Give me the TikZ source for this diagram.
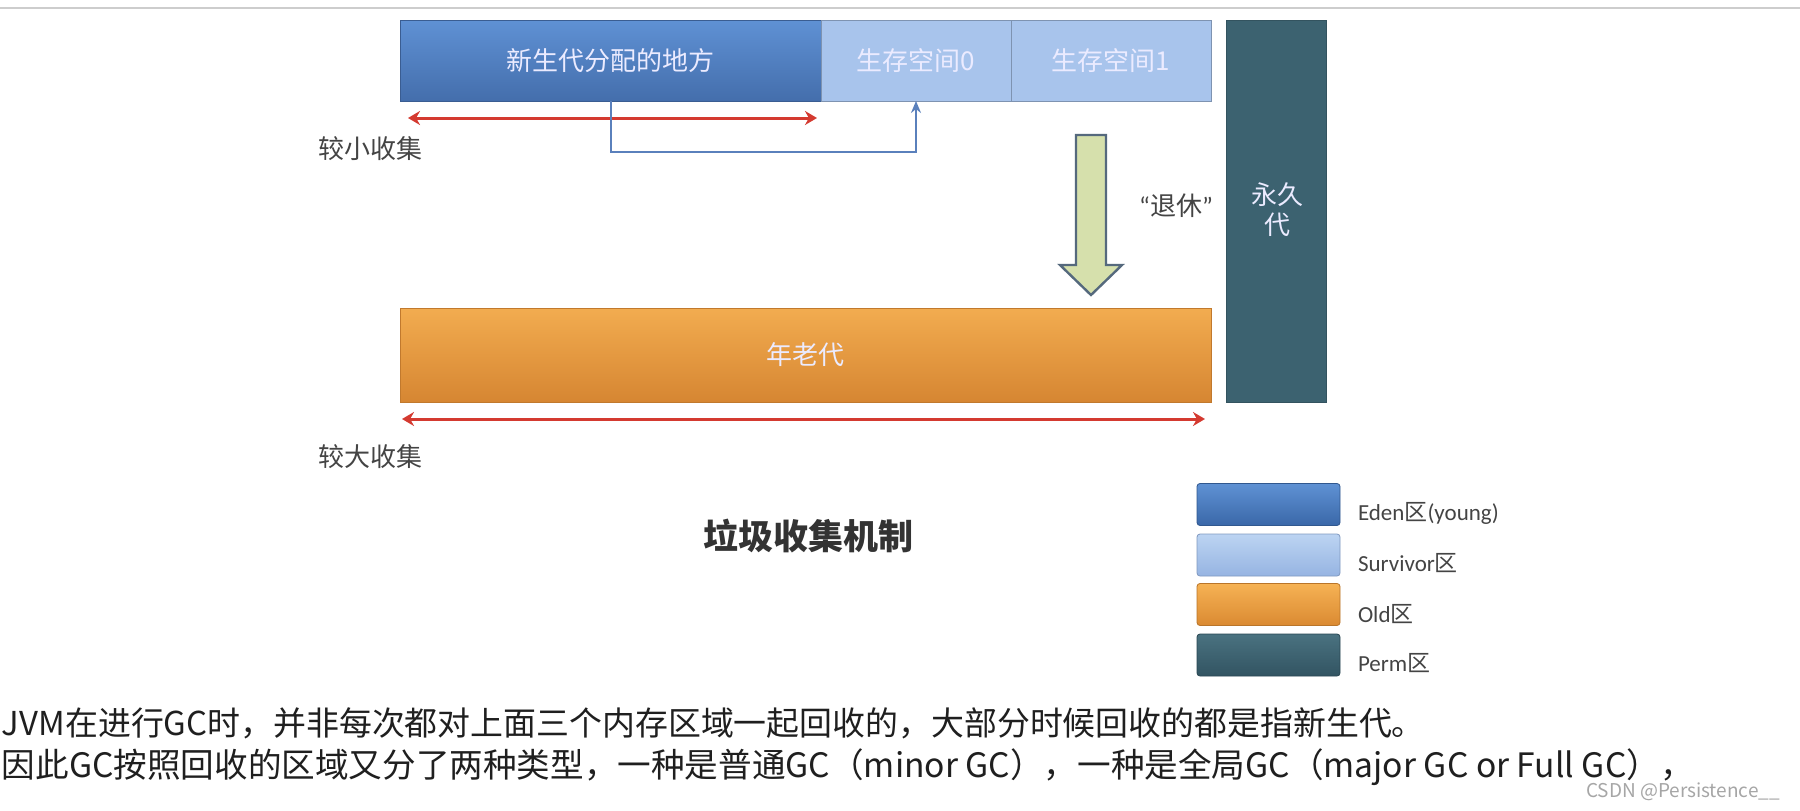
\documentclass[tikz,border=0pt]{standalone}
\usepackage{fontspec}
\setmainfont{Noto Sans CJK SC}
\newfontfamily\latinf{Carlito}
\usetikzlibrary{arrows.meta,calc}
\definecolor{edenT}{RGB}{95,145,212}
\definecolor{edenB}{RGB}{68,110,172}
\definecolor{surv}{RGB}{168,196,236}
\definecolor{oldT}{RGB}{242,172,80}
\definecolor{oldB}{RGB}{214,134,50}
\definecolor{perm}{RGB}{60,98,112}
\definecolor{arrowgreen}{RGB}{214,224,172}
\definecolor{arrowedge}{RGB}{85,105,125}
\definecolor{redline}{RGB}{212,58,48}
\definecolor{blueline}{RGB}{90,128,188}
\definecolor{labelgray}{RGB}{68,68,68}
\definecolor{framegray}{RGB}{205,205,205}
\definecolor{legEdenT}{RGB}{95,145,212}
\definecolor{legEdenB}{RGB}{58,103,168}
\definecolor{legSurvT}{RGB}{188,212,242}
\definecolor{legSurvB}{RGB}{150,180,226}
\definecolor{legOldT}{RGB}{246,178,84}
\definecolor{legOldB}{RGB}{218,138,50}
\definecolor{legPermT}{RGB}{74,114,128}
\definecolor{legPermB}{RGB}{50,84,98}
\begin{document}
\begin{tikzpicture}[x=0.5pt,y=-0.5pt,
  every node/.style={inner sep=0pt,outer sep=0pt},
  edenbox/.style={top color=edenT,bottom color=edenB,draw=edenB!85!black,line width=0.4pt},
  survbox/.style={fill=surv,draw=surv!75!black,line width=0.4pt},
  oldbox/.style={top color=oldT,bottom color=oldB,draw=oldB!90!black,line width=0.4pt},
  permbox/.style={fill=perm,draw=perm!85!black,line width=0.4pt},
  boxtext/.style={text=white!92!blue,font=\fontsize{13pt}{15pt}\selectfont},
  graytext/.style={text=labelgray,font=\fontsize{13pt}{15pt}\selectfont},
  spanarrow/.style={draw=redline,line width=1.5pt,{Stealth[length=6pt,width=7pt]}-{Stealth[length=6pt,width=7pt]}},
  flowarrow/.style={draw=blueline,line width=1pt,-{Stealth[length=6pt,width=5pt,inset=2pt]}},
  legbox/.style={minimum width=71.5pt,minimum height=21pt,rounded corners=1.5pt,line width=0.4pt},
  legtext/.style={anchor=west,text=labelgray,font=\fontsize{11.5pt}{13pt}\selectfont},
  bodytext/.style={anchor=west,text=black!88},
]
\useasboundingbox (0,0) rectangle (1800,810);
\fill[white] (0,0) rectangle (1800,810);
\draw[framegray,line width=1pt] (0,8) -- (1800,8);

% memory regions
\node[edenbox,minimum width=210.5pt,minimum height=40.5pt,boxtext] (eden) at (610.5,60.5) {新生代分配的地方};
\node[survbox,minimum width=95pt,minimum height=40.5pt,boxtext] (surv0) at (916,60.5) {生存空间0};
\node[survbox,minimum width=100pt,minimum height=40.5pt,boxtext] (surv1) at (1111,60.5) {生存空间1};
\node[permbox,minimum width=50pt,minimum height=191pt] (perm) at (1276,211) {};
\node[boxtext,align=center,font=\fontsize{13pt}{15pt}\selectfont] (permtext) at (1277,210) {永久\\代};
\node[oldbox,minimum width=405.5pt,minimum height=47pt,boxtext] (old) at (805.5,355) {年老代};

% minor collection
\coordinate (m1) at (408,118);
\coordinate (m2) at (817,118);
\draw[spanarrow] (m1) -- (m2);
\node[graytext] (minor) at (370,149) {较小收集};
\draw[flowarrow] (eden.south) -- ++(0,51) -| (surv0.south);

% retirement arrow
\draw[fill=arrowgreen,draw=arrowedge,line width=1.2pt,line join=miter]
  (1076,135) -- (1106,135) -- (1106,265) -- (1122,265) -- (1091,295) -- (1060,265) -- (1076,265) -- cycle;
\node[graytext] (retire) at (1176,206) {{\latinf “}退休{\latinf ”}};

% major collection
\coordinate (M1) at (402,419);
\coordinate (M2) at (1205,419);
\draw[spanarrow] (M1) -- (M2);
\node[graytext] (major) at (370,457) {较大收集};

% title
\node[font=\fontsize{17.5pt}{20pt}\selectfont\bfseries,text=black!80] (title) at (808,536) {垃圾收集机制};

% legend
\node[legbox,top color=legEdenT,bottom color=legEdenB,draw=legEdenB!85!black] (lgeden) at (1268.5,504.5) {};
\node[legbox,top color=legSurvT,bottom color=legSurvB,draw=legSurvB!85!black] (lgsurv) at (1268.5,555) {};
\node[legbox,top color=legOldT,bottom color=legOldB,draw=legOldB!85!black] (lgold) at (1268.5,604.5) {};
\node[legbox,top color=legPermT,bottom color=legPermB,draw=legPermB!85!black] (lgperm) at (1268.5,655) {};
\node[legtext] (lteden) at (1358,513) {{\latinf Eden}区{\latinf (young)}};
\node[legtext] (ltsurv) at (1358,563) {{\latinf Survivor}区};
\node[legtext] (ltold) at (1358,614) {{\latinf Old}区};
\node[legtext] (ltperm) at (1358,663) {{\latinf Perm}区};

% bottom text
\node[bodytext,font=\fontsize{16.45pt}{19pt}\selectfont] (line1) at (2,723) {JVM在进行GC时，并非每次都对上面三个内存区域一起回收的，大部分时候回收的都是指新生代。};
\node[bodytext,font=\fontsize{16.8pt}{19pt}\selectfont] (line2) at (2,767) {因此GC按照回收的区域又分了两种类型，一种是普通GC（minor GC），一种是全局GC（major GC or Full GC），};
\node[text=black!35,font=\fontsize{9.5pt}{11pt}\selectfont] (wm) at (1683,792) {CSDN @Persistence\_\_};
\end{tikzpicture}
\end{document}
